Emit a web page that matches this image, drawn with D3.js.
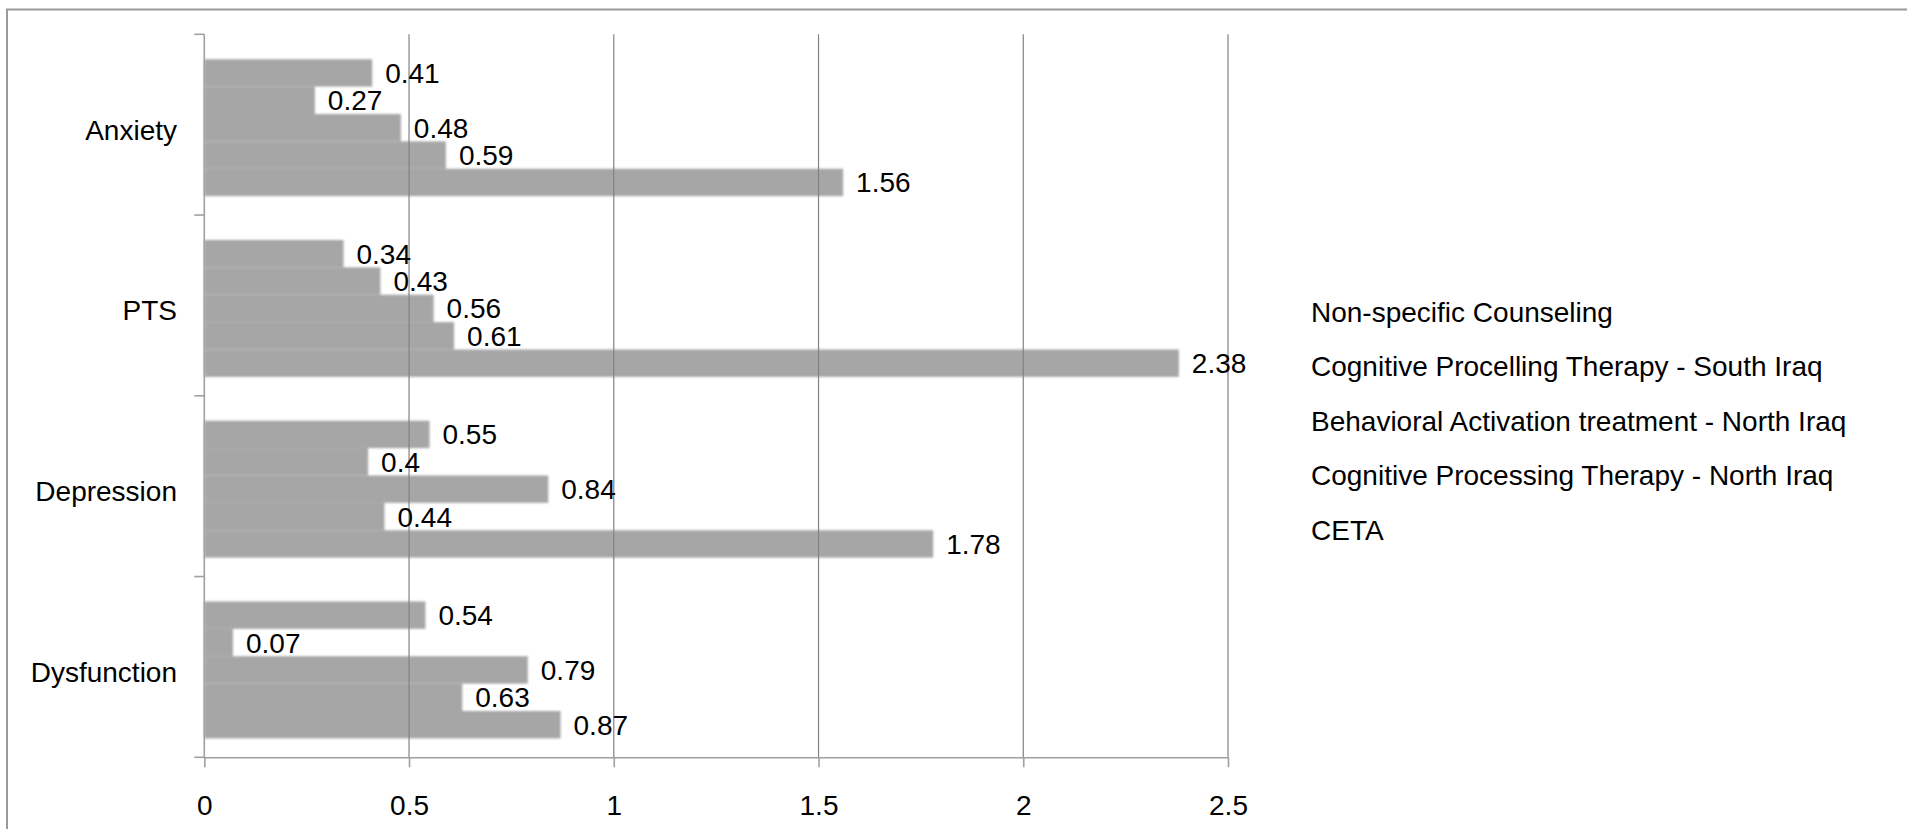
<!DOCTYPE html>
<html>
<head>
<meta charset="utf-8">
<script src="https://cdn.jsdelivr.net/npm/d3@7"></script>
<style>
  body { margin: 0; background: #fff; }
  svg text { font-family: "Liberation Sans", Arial, sans-serif; fill: #000; }
</style>
</head>
<body>
<svg id="chart" width="1907" height="829"></svg>
<script>
// Effect sizes by outcome and treatment arm
const categories = ["Anxiety", "PTS", "Depression", "Dysfunction"];
const seriesNames = [
  "Non-specific Counseling",
  "Cognitive Procelling Therapy - South Iraq",
  "Behavioral Activation treatment - North Iraq",
  "Cognitive Processing Therapy - North Iraq",
  "CETA"
];
const nonSpecific = [0.41, 0.34, 0.55, 0.54];
const cptSouth    = [0.27, 0.43, 0.40, 0.07];
const batNorth    = [0.48, 0.56, 0.84, 0.79];
const cptNorth    = [0.59, 0.61, 0.44, 0.63];
const ceta        = [1.56, 2.38, 1.78, 0.87];
const xTicks = [0, 0.5, 1, 1.5, 2, 2.5];

const seriesValues = [nonSpecific, cptSouth, batNorth, cptNorth, ceta];
const rows = [];
categories.forEach((c, ci) => {
  seriesNames.forEach((s, si) => rows.push({ cat: c, series: s, value: seriesValues[si][ci] }));
});

const svg = d3.select("#chart");
const FONT = 28;

// outer frame
svg.append("rect")
  .attr("x", 7).attr("y", 9.5).attr("width", 2000).attr("height", 1000)
  .attr("fill", "none").attr("stroke", "#9a9a9a").attr("stroke-width", 2);

const x = d3.scaleLinear().domain([0, 2.5]).range([204.3, 1228]);
const y = d3.scaleBand().domain(categories).range([34.3, 757.3]).padding(0);
const inner = d3.scaleBand().domain(seriesNames).range([0, y.bandwidth()])
  .paddingInner(0).paddingOuter(0.8);

// soft edge on bars
const defs = svg.append("defs");
defs.append("filter").attr("id", "soft")
  .attr("x", "-5%").attr("y", "-30%").attr("width", "110%").attr("height", "160%")
  .append("feGaussianBlur").attr("stdDeviation", 1.1);

// bars
svg.append("g").attr("transform", "translate(0,3)")
  .attr("filter", "url(#soft)")
  .selectAll("rect").data(rows).join("rect")
  .attr("x", x(0))
  .attr("y", d => y(d.cat) + inner(d.series))
  .attr("width", d => x(d.value) - x(0))
  .attr("height", inner.bandwidth())
  .attr("fill", "#a6a6a6");

// vertical gridlines
svg.append("g").selectAll("line").data(xTicks.filter(t => t > 0)).join("line")
  .attr("x1", d => x(d)).attr("x2", d => x(d))
  .attr("y1", y.range()[0]).attr("y2", y.range()[1])
  .attr("stroke", "#828282").attr("stroke-width", 1.2);

// x axis
const xAxis = svg.append("g")
  .attr("transform", `translate(0,${y.range()[1]})`)
  .call(d3.axisBottom(x).tickValues(xTicks).tickSizeInner(10).tickSizeOuter(0).tickFormat(d => String(d)));
xAxis.select(".domain").attr("stroke", "#a0a0a0").attr("stroke-width", 1.6);
xAxis.selectAll(".tick line").attr("stroke", "#a0a0a0").attr("stroke-width", 1.6);
xAxis.selectAll(".tick text")
  .attr("y", 58).attr("dy", 0)
  .style("font-size", FONT + "px")
  .attr("fill", "#000");

// y axis line with boundary ticks
const yAxis = svg.append("g");
yAxis.append("line")
  .attr("x1", x(0)).attr("x2", x(0))
  .attr("y1", y.range()[0]).attr("y2", y.range()[1])
  .attr("stroke", "#a0a0a0").attr("stroke-width", 1.6);
const bounds = categories.map(c => y(c)).concat([y.range()[1]]);
yAxis.selectAll("line.b").data(bounds).join("line").attr("class", "b")
  .attr("x1", x(0) - 10).attr("x2", x(0))
  .attr("y1", d => d).attr("y2", d => d)
  .attr("stroke", "#a0a0a0").attr("stroke-width", 1.6);
yAxis.selectAll("text").data(categories).join("text")
  .attr("x", 177)
  .attr("y", d => y(d) + y.bandwidth() / 2 + 15)
  .attr("text-anchor", "end")
  .style("font-size", FONT + "px")
  .text(d => d);

// value labels
svg.append("g").selectAll("text").data(rows).join("text")
  .attr("x", d => x(d.value) + 13)
  .attr("y", d => 3 + y(d.cat) + inner(d.series) + inner.bandwidth() / 2 + 10)
  .style("font-size", FONT + "px")
  .text(d => String(d.value));

// legend (text only)
svg.append("g").selectAll("text").data(seriesNames).join("text")
  .attr("x", 1311)
  .attr("y", (d, i) => 321.5 + i * 54.5)
  .style("font-size", FONT + "px")
  .text(d => d);
</script>
</body>
</html>
